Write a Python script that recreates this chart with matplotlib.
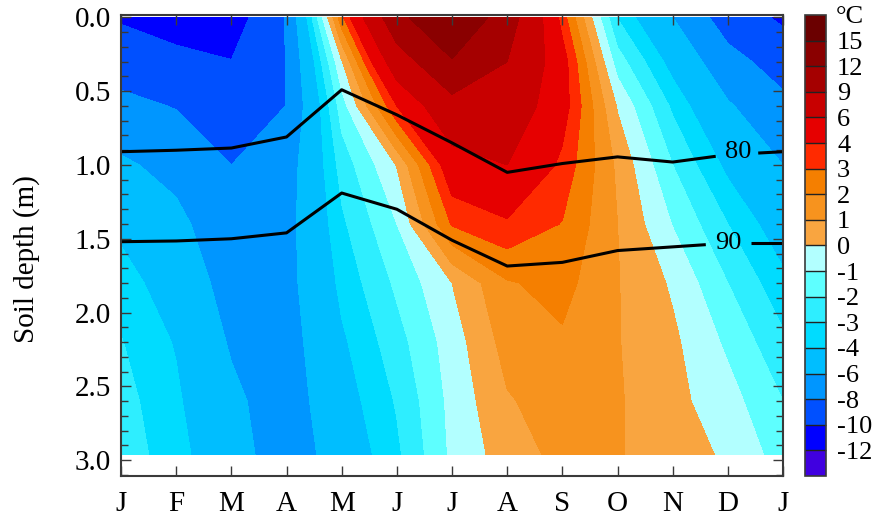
"""
plot.py
─────────────────────────
Annual cycle of soil temperature against depth, drawn as a filled contour
field with the 80 / 90 isolines overlaid, saved as out.png.
"""

from __future__ import annotations

import matplotlib

matplotlib.use("Agg")

import matplotlib.pyplot as plt
import numpy as np
from matplotlib.ticker import FormatStrFormatter, MultipleLocator

# ── Matplotlib defaults ───────────────────────────────────────────────────────
plt.rcParams["font.family"] = ["Liberation Serif", "DejaVu Serif"]
plt.rcParams["axes.unicode_minus"] = False

# ── Data ──────────────────────────────────────────────────────────────────────
MONTHS = ["J", "F", "M", "A", "M", "J", "J", "A", "S", "O", "N", "D", "J"]
MONTH_POS = np.arange(13)

DEPTHS = [0.0, 0.3, 0.6, 1.0, 1.4, 1.8, 2.2, 2.6, 2.96]

# Soil temperature (°C), one row per depth, one column per month node.
T_000 = [-10.2, -11.0, -11.0, -7.9, 2.7, 11.2, 14.8, 10.5, 3.5, -3.05, -6.0, -9.0, -10.3]
T_030 = [-8.9, -9.4, -9.95, -7.95, -0.1, 7.5, 11.8, 9.0, 4.6, -1.5, -4.5, -7.3, -8.9]
T_060 = [-7.5, -8.1, -9.0, -7.98, -1.5, 4.0, 8.0, 7.6, 4.6, -0.1, -3.2, -5.8, -7.5]
T_100 = [-5.7, -6.6, -8.0, -6.9, -2.6, 0.05, 5.0, 6.0, 3.7, 0.8, -2.0, -4.3, -6.0]
T_140 = [-4.3, -5.5, -7.4, -6.6, -3.2, -1.0, 3.1, 3.8, 2.95, 1.0, -1.05, -3.0, -4.8]
T_180 = [-3.5, -4.7, -6.8, -6.6, -3.7, -1.8, 0.0, 1.9, 2.35, 1.05, -0.15, -2.0, -3.7]
T_220 = [-2.95, -4.1, -6.2, -6.8, -4.2, -2.4, -0.5, 1.4, 1.85, 1.05, 0.2, -1.2, -2.8]
T_260 = [-2.6, -3.8, -5.6, -7.0, -4.6, -2.9, -0.7, 0.9, 1.5, 1.1, 0.3, -0.6, -2.0]
T_296 = [-2.4, -3.6, -5.1, -7.2, -5.0, -3.2, -0.8, 0.5, 1.3, 1.1, 0.3, -0.1, -1.5]

# Depth (m) of the 80 and 90 isolines at each month node.
ISO_80 = [0.91, 0.90, 0.885, 0.81, 0.49, 0.66, 0.85, 1.05, 0.99, 0.945, 0.98, 0.93, 0.91]
ISO_90 = [1.52, 1.515, 1.50, 1.46, 1.19, 1.30, 1.51, 1.685, 1.66, 1.58, 1.555, 1.53, 1.53]

LEVELS = [-12, -10, -8, -6, -4, -3, -2, -1, 0, 1, 2, 3, 4, 6, 9, 12, 15]

# ── Visual constants ──────────────────────────────────────────────────────────
COLORS = [
    "#4000E0",  # < -12
    "#0000FF", "#0050FF", "#0096FF", "#00BEFF", "#00DCFF", "#2EEEFF",
    "#5EFFFF", "#B2FFFF", "#F9A540", "#F7931E", "#F57F00", "#FF2A00",
    "#E60000", "#C80000", "#A50000", "#8A0000",
    "#6B0000",  # > 15
]
FS = 21
EDGE = "#3a3a3a"


def _split_line(x, y, gap):
    """Cut a polyline into two pieces leaving a gap for its label."""
    x = np.asarray(x, float)
    y = np.asarray(y, float)
    left_x = np.append(x[x < gap[0]], gap[0])
    right_x = np.insert(x[x > gap[1]], 0, gap[1])
    return (left_x, np.interp(left_x, x, y)), (right_x, np.interp(right_x, x, y))


def main() -> None:
    temp = np.array([T_000, T_030, T_060, T_100, T_140,
                     T_180, T_220, T_260, T_296])

    fig = plt.figure(figsize=(8.88, 5.23), dpi=100)
    ax = fig.add_axes([0.1363, 0.0899, 0.7455, 0.8815])

    cf = ax.contourf(MONTH_POS, DEPTHS, temp, levels=LEVELS,
                     colors=COLORS, extend="both", antialiased=False)

    # isolines with inline labels
    for depths, label, gap, pos in [
        (ISO_80, "80", (10.78, 11.55), (11.18, 0.915)),
        (ISO_90, "90", (10.60, 11.42), (11.01, 1.53)),
    ]:
        for seg_x, seg_y in _split_line(MONTH_POS, depths, gap):
            ax.plot(seg_x, seg_y, color="black", lw=2.2, solid_capstyle="butt")
        ax.text(pos[0], pos[1], label, ha="center", va="center",
                fontsize=19, color="black")

    ax.set_xlim(0, 12)
    ax.set_ylim(3.108, -0.017)
    ax.set_xticks(MONTH_POS)
    ax.set_xticklabels(MONTHS)
    ax.set_yticks(np.arange(0, 3.01, 0.5))
    ax.yaxis.set_major_formatter(FormatStrFormatter("%.1f"))
    ax.yaxis.set_minor_locator(MultipleLocator(0.1))
    ax.tick_params(which="both", direction="in", top=True, right=True,
                   color=EDGE, width=1.0, labelsize=FS)
    ax.tick_params(which="major", length=7)
    ax.tick_params(which="minor", length=5)
    ax.tick_params(axis="x", pad=11)
    ax.tick_params(axis="y", pad=7)
    for spine in ax.spines.values():
        spine.set_color(EDGE)
        spine.set_linewidth(1.5)

    ax.set_ylabel("Soil depth (m)", fontsize=FS)
    ax.yaxis.set_label_coords(-0.122, 0.47)

    # colour bar with rectangular end boxes
    cax = fig.add_axes([0.9065, 0.0899, 0.0236, 0.8815])
    cbar = fig.colorbar(cf, cax=cax, ticks=LEVELS, extendrect=True,
                        extendfrac="auto", drawedges=True)
    cbar.ax.set_yticklabels([str(v) for v in LEVELS])
    cbar.ax.tick_params(length=0, labelsize=19, pad=8)
    cbar.outline.set_edgecolor(EDGE)
    cbar.outline.set_linewidth(1.2)
    cbar.dividers.set_color("#222222")
    cbar.dividers.set_linewidth(1.0)
    fig.text(0.941, 0.968, "°C", ha="left", va="center", fontsize=19)

    fig.savefig("out.png", dpi=100)


if __name__ == "__main__":
    main()
